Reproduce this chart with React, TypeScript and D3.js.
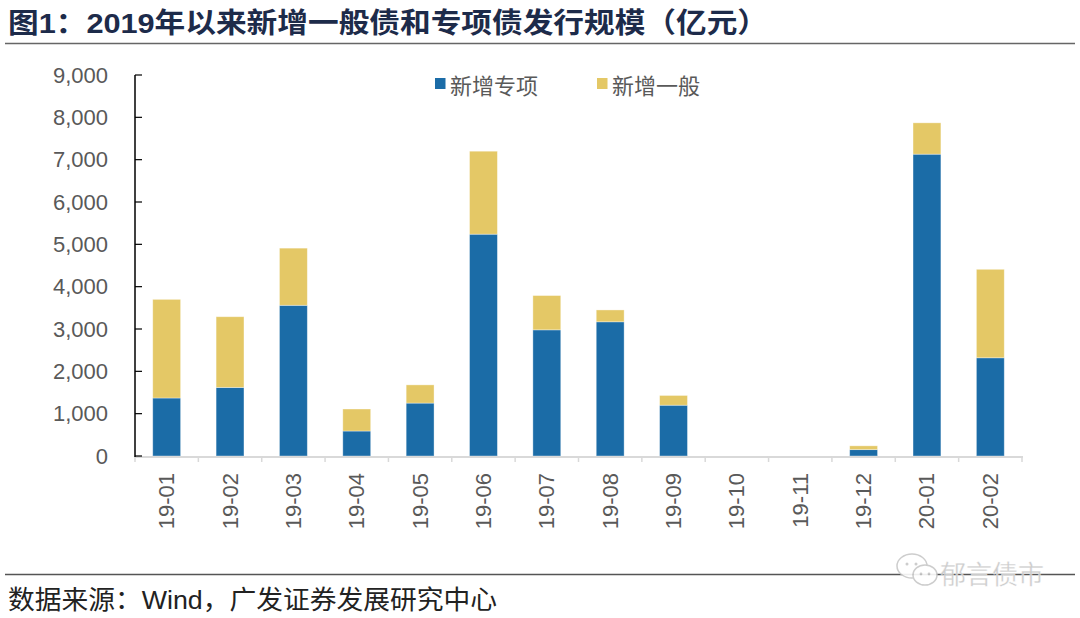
import React from 'react';
import * as d3 from 'd3';

const categories = ['19-01', '19-02', '19-03', '19-04', '19-05', '19-06', '19-07', '19-08', '19-09', '19-10', '19-11', '19-12', '20-01', '20-02'];
const specialValues = [1370, 1620, 3560, 590, 1250, 5240, 2980, 3170, 1200, 0, 0, 150, 7130, 2320];
const generalValues = [2330, 1670, 1350, 520, 430, 1960, 810, 280, 230, 0, 0, 90, 740, 2090];
const yTicks = [0, 1000, 2000, 3000, 4000, 5000, 6000, 7000, 8000, 9000];
const seriesNames = ['新增专项', '新增一般'];
const colors = ['#1b6ca7', '#e4c866'];
const titleText = '图1：2019年以来新增一般债和专项债发行规模（亿元）';
const sourceText = '数据来源：Wind，广发证券发展研究中心';
const watermark = '郁言债市';

const W = 1080;
const H = 618;
const left = 135;
const right = 1022;
const top = 75;
const bottom = 456;

const numFont = '"Liberation Sans", Arial, "Noto Sans CJK SC", sans-serif';
const cjkFont = '"Liberation Sans", "Noto Sans CJK SC", sans-serif';

export default function App() {
  const x = d3.scaleBand<string>().domain(categories).range([left, right]).paddingInner(0.56).paddingOuter(0.28);
  const y = d3.scaleLinear().domain([0, 9000]).range([bottom, top]);
  const step = x.step();
  const fmt = d3.format(',');

  const stacked = d3.stack<number>().keys(['s', 'g'])
    .value((i: number, k: string) => (k === 's' ? specialValues[i] : generalValues[i]))(categories.map((_, i) => i));

  return (
    <svg width={W} height={H} style={{ position: 'absolute', left: 0, top: 0, background: '#fff' }}>
      <rect x={0} y={0} width={W} height={H} fill="#fff" />
      {/* Title */}
      <text x={8} y={33} fontFamily={cjkFont} fontWeight="bold" fontSize={28} fill="#1d2b4a" textLength={760} lengthAdjust="spacingAndGlyphs">{titleText}</text>
      <line x1={5} x2={1075} y1={43.5} y2={43.5} stroke="#666" strokeWidth={1.5} />

      {/* Bars */}
      {stacked.map((layer, li) => (
        <g key={li}>
          {layer.map((d, i) => {
            const h = y(d[0]) - y(d[1]);
            if (h <= 0) return null;
            return (
              <rect key={i} x={x(categories[i])} y={y(d[1])} width={x.bandwidth()} height={h}
                fill={colors[li]} stroke="#ffffff" strokeOpacity={0.45} strokeWidth={0.8} />
            );
          })}
        </g>
      ))}

      {/* X axis */}
      <line x1={left} x2={right + 1} y1={bottom + 1} y2={bottom + 1} stroke="#d9d9d9" strokeWidth={2} />
      {d3.range(categories.length + 1).map((i) => (
        <line key={i} x1={left + i * step} x2={left + i * step} y1={bottom} y2={bottom + 6} stroke="#d9d9d9" strokeWidth={1.5} />
      ))}
      {categories.map((c) => {
        const cx = (x(c) as number) + x.bandwidth() / 2;
        return (
          <text key={c} transform={`translate(${cx},473) rotate(-90)`} textAnchor="end" dominantBaseline="central"
            fontFamily={numFont} fontSize={22} fill="#595959">{c}</text>
        );
      })}

      {/* Y axis */}
      <line x1={left} x2={left} y1={top} y2={bottom + 1} stroke="#000" strokeWidth={1.5} />
      {yTicks.map((t) => (
        <g key={t}>
          <line x1={left} x2={left + 7} y1={y(t)} y2={y(t)} stroke="#000" strokeWidth={1.2} />
          <text x={108} y={y(t)} textAnchor="end" dominantBaseline="central" fontFamily={numFont} fontSize={22} fill="#595959">{fmt(t)}</text>
        </g>
      ))}

      {/* Legend */}
      {seriesNames.map((n, i) => {
        const lx = i === 0 ? 435 : 597;
        return (
          <g key={n}>
            <rect x={lx} y={78} width={10.5} height={11} fill={colors[i]} />
            <text x={lx + 15} y={84} dominantBaseline="central" fontFamily='"Noto Sans CJK SC", sans-serif' fontSize={22} fill="#595959">{n}</text>
          </g>
        );
      })}

      {/* Footer */}
      <line x1={5} x2={1075} y1={574.5} y2={574.5} stroke="#555" strokeWidth={1.5} />
      <text x={8} y={609} fontFamily={cjkFont} fontSize={26} fill="#222" textLength={489} lengthAdjust="spacingAndGlyphs">{sourceText}</text>

      {/* Watermark */}
      <g opacity={0.9}>
        <ellipse cx={912} cy={566} rx={15} ry={12} fill="#fff" stroke="#c8c8c8" strokeWidth={1.5} />
        <ellipse cx={925} cy={575} rx={12} ry={10} fill="#fff" stroke="#c8c8c8" strokeWidth={1.5} />
        <circle cx={907} cy={564} r={1.5} fill="#c8c8c8" />
        <circle cx={916} cy={564} r={1.5} fill="#c8c8c8" />
        <circle cx={921} cy={574} r={1.4} fill="#c8c8c8" />
        <circle cx={929} cy={574} r={1.4} fill="#c8c8c8" />
        <text x={940} y={584} fontFamily='"Noto Sans CJK SC", sans-serif' fontSize={26} fill="#c8c8c8" stroke="#fff" strokeWidth={0.3}>{watermark}</text>
      </g>
    </svg>
  );
}
